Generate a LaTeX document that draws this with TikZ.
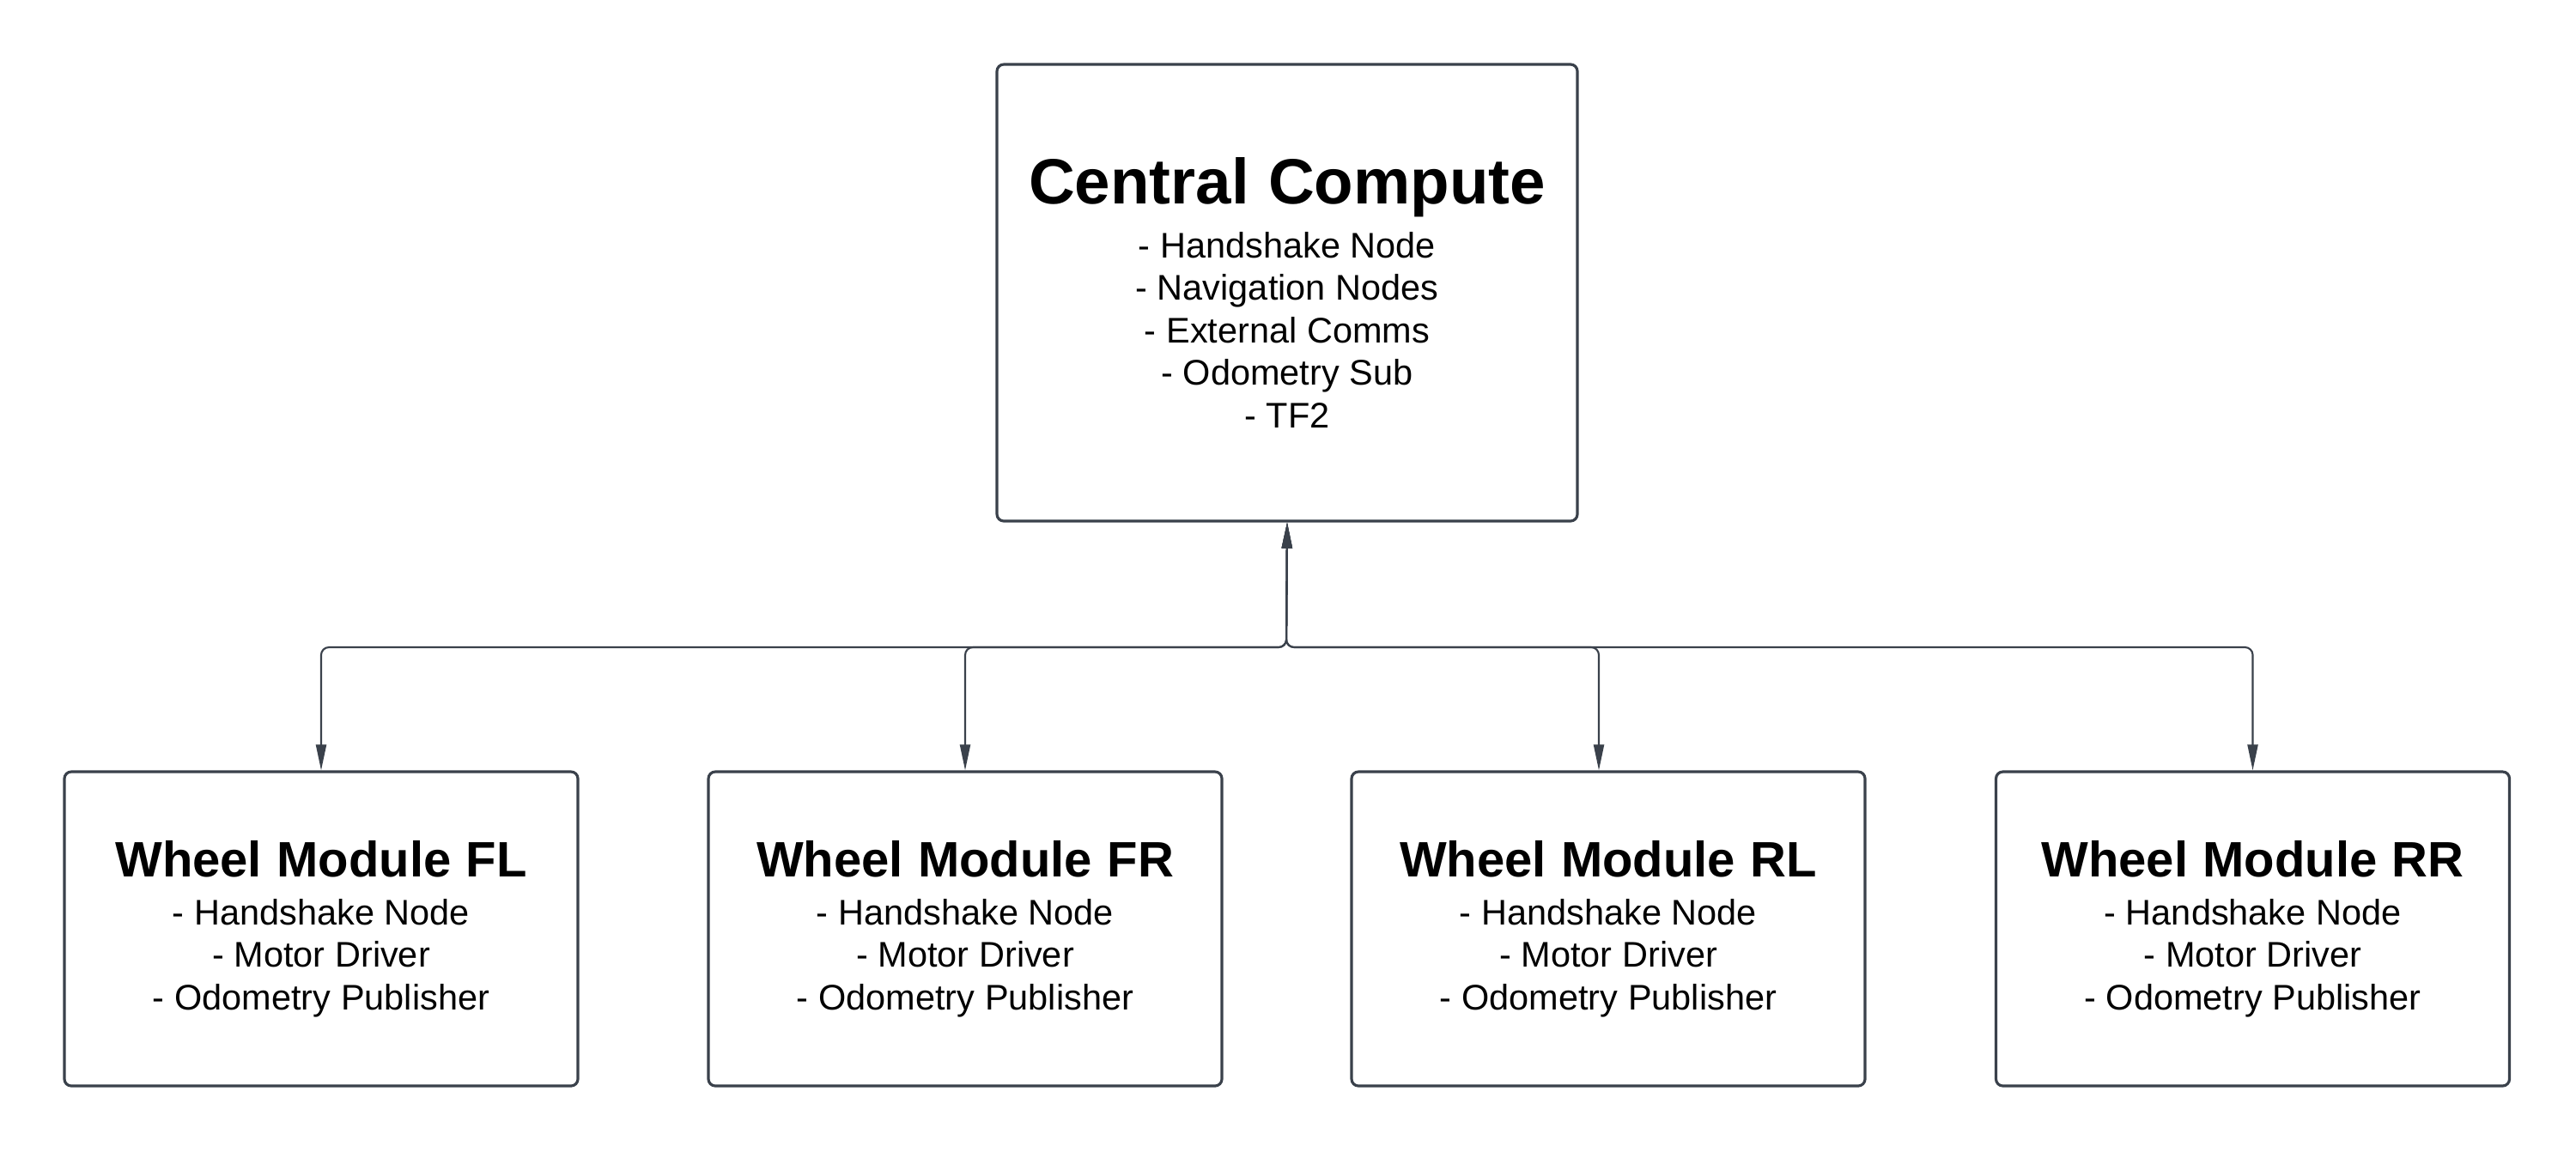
\documentclass[tikz,border=0pt]{standalone}
\usepackage{fontspec}
\setmainfont{Liberation Sans}
\usetikzlibrary{arrows.meta,calc}
\definecolor{edge}{HTML}{3A414B}
\newcommand{\bodyfont}{\fontsize{11.8pt}{14.1pt}\selectfont}
\newcommand{\cctitlefont}{\fontsize{21.2pt}{25pt}\selectfont\bfseries\spaceskip=0.3em}
\newcommand{\wmtitlefont}{\fontsize{16.5pt}{20pt}\selectfont\bfseries\spaceskip=0.3em}
\tikzset{
  box/.style={draw=edge, line width=0.9pt, rounded corners=0.08cm, inner sep=0pt, align=center, fill=white},
  ccbox/.style={box, text width=6.76cm, minimum height=5.32cm},
  wmbox/.style={box, text width=5.98cm, minimum height=3.66cm},
  conn/.style={draw=edge, line width=0.6pt, rounded corners=0.09cm,
    {Triangle[length=0.3cm,width=0.12cm]}-{Triangle[length=0.3cm,width=0.12cm]}}
}
\newcommand{\wmtext}[1]{{\wmtitlefont Wheel Module #1\par}\vspace{1.8pt}{\bodyfont - Handshake Node\\- Motor Driver\\- Odometry Publisher\par}}
\begin{document}
\begin{tikzpicture}
\useasboundingbox[fill=white] (0,0) rectangle (30,-13.41);
\node[ccbox] (cc) at (14.99,-3.41) {{\cctitlefont Central Compute\par}\vspace{3.6pt}{\bodyfont - Handshake Node\\- Navigation Nodes\\- External Comms\\- Odometry Sub\\- TF2\par}};
\node[wmbox] (fl) at (3.74,-10.82) {\wmtext{FL}};
\node[wmbox] (fr) at (11.24,-10.82) {\wmtext{FR}};
\node[wmbox] (rl) at (18.73,-10.82) {\wmtext{RL}};
\node[wmbox] (rr) at (26.235,-10.82) {\wmtext{RR}};
\coordinate (bus) at (14.98,-7.54);
\draw[conn] (cc.south) -- (bus) -| (fl.north);
\draw[conn] (cc.south) -- (bus) -| (fr.north);
\draw[conn] (cc.south) -- (bus) -| ($(rl.north)+(-0.11,0)$);
\draw[conn] (cc.south) -- (bus) -| (rr.north);
\end{tikzpicture}
\end{document}
